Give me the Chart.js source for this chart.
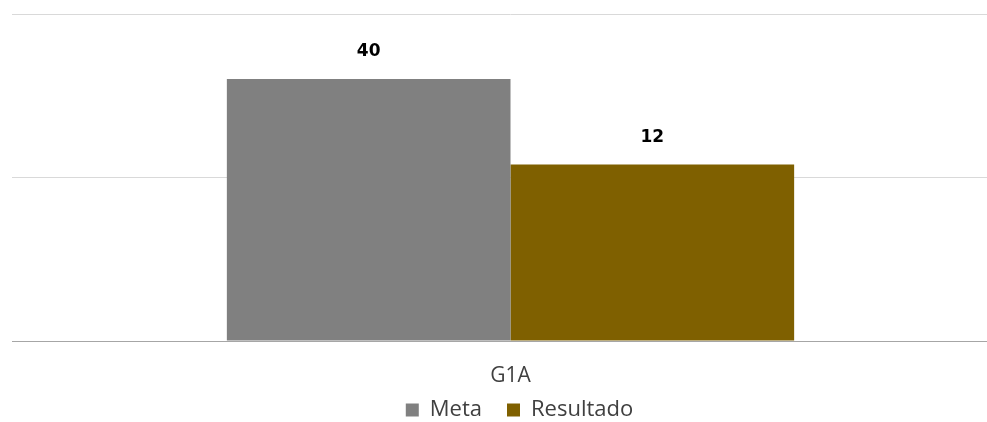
<!DOCTYPE html>
<html>
<head>
<meta charset="utf-8">
<script src="https://cdn.jsdelivr.net/npm/chart.js@4/dist/chart.umd.min.js"></script>
<style>
	html, body { margin: 0; padding: 0; background: #fff; overflow: hidden; }
	#wrap { width: 1009px; height: 422px; position: relative; }
</style>
</head>
<body>
<div id="wrap"><canvas id="chart"></canvas></div>
<script>
const categories = ["G1A"]
const seriesNames = ["Meta", "Resultado"]
const metaValues = [40]
const resultadoValues = [12]
const gridValues = [1, 10, 100]

const textFont = "'Open Sans', 'DejaVu Sans', sans-serif"
const labelFont = "'DejaVu Sans', sans-serif"

// draws the value above each bar
const valueLabels = {
	id: 'valueLabels',
	afterDatasetsDraw(chart) {
		const ctx = chart.ctx
		ctx.save()
		ctx.font = "bold 17px " + labelFont
		ctx.fillStyle = '#000'
		ctx.textAlign = 'center'
		ctx.textBaseline = 'middle'
		chart.data.datasets.forEach((ds, i) => {
			chart.getDatasetMeta(i).data.forEach((bar, j) => {
				ctx.fillText(ds.data[j], bar.x, bar.y - 27)
			})
		})
		ctx.restore()
	}
}

// keep the legend compact at the bottom
const legendPlace = {
	id: 'legendPlace',
	afterInit(chart) {
		const legend = chart.legend
		const fit = legend.fit
		legend.fit = function () {
			fit.call(this)
			this.height = 33
		}
	},
	afterLayout(chart) {
		const legend = chart.legend
		legend.top -= 15
		legend.left += 9
		legend.right += 9
	}
}

new Chart(document.getElementById("chart"), {
	type: 'bar',
	data: {
		labels: categories,
		datasets: [{
			label: seriesNames[0],
			data: metaValues,
			backgroundColor: '#808080',
		}, {
			label: seriesNames[1],
			data: resultadoValues,
			backgroundColor: '#7f6000',
		}],
	},
	options: {
		animation: false,
		responsive: true,
		maintainAspectRatio: false,
		datasets: {
			bar: {
				categoryPercentage: 0.569,
				barPercentage: 1,
				base: 1,
			},
		},
		layout: {
			padding: { top: 14, left: 12, right: 0, bottom: 0 },
		},
		scales: {
			x: {
				grid: { display: false },
				border: { color: '#a6a6a6', width: 1 },
				afterFit: (scale) => { scale.height = 48 },
				ticks: {
					color: '#404040',
					font: { family: textFont, size: 21 },
					padding: 14,
				},
			},
			y: {
				type: 'logarithmic',
				min: 1,
				max: 100,
				afterBuildTicks: (axis) => {
					axis.ticks = gridValues.map(v => ({ value: v }))
				},
				ticks: { display: false },
				grid: { color: '#d9d9d9', drawTicks: false },
				border: { display: false },
			},
		},
		plugins: {
			tooltip: { enabled: false },
			legend: {
				position: 'bottom',
				labels: {
					boxWidth: 13,
					boxHeight: 13,
					padding: 25,
					color: '#404040',
					font: { family: textFont, size: 22 },
				},
			},
		},
	},
	plugins: [valueLabels, legendPlace],
})
</script>
</body>
</html>
